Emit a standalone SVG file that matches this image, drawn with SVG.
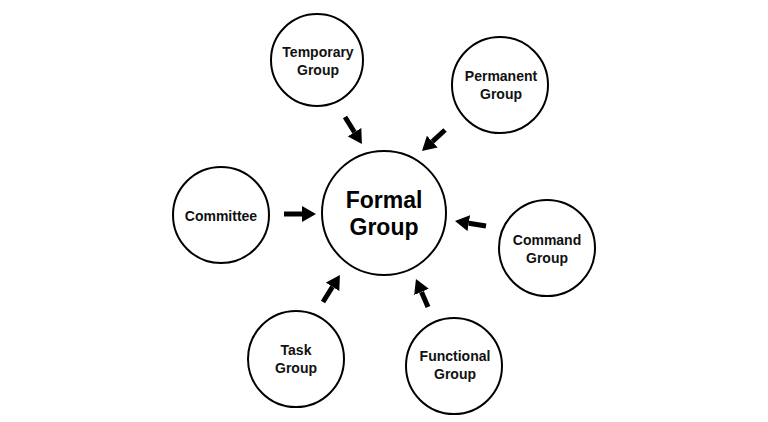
<svg xmlns="http://www.w3.org/2000/svg" width="768" height="422" viewBox="0 0 768 422">
<defs>
<style>
.n{fill:#fff;stroke:#000;stroke-width:2}
.t{font-family:"Liberation Sans",Arial,sans-serif;font-weight:bold;font-size:14px;fill:#111;text-anchor:middle}
.big{font-size:23px;fill:#000}
.c{stroke:#000;stroke-width:5;fill:none}
</style>
<marker id="ah" viewBox="0 -8 14 16" refX="0" refY="0" markerWidth="14" markerHeight="16" markerUnits="userSpaceOnUse" orient="auto">
<path d="M0,-8 L14,0 L0,8 z" fill="#000"/>
</marker>
</defs>
<rect width="768" height="422" fill="#fff"/>
<g id="connectors">
<line class="c" x1="345" y1="117" x2="354.5" y2="132.2" marker-end="url(#ah)"/>
<line class="c" x1="445" y1="130" x2="432.3" y2="141.6" marker-end="url(#ah)"/>
<line class="c" x1="284" y1="214" x2="302" y2="214" marker-end="url(#ah)"/>
<line class="c" x1="486" y1="226" x2="468.8" y2="223.2" marker-end="url(#ah)"/>
<line class="c" x1="323" y1="302" x2="332.5" y2="286.8" marker-end="url(#ah)"/>
<line class="c" x1="428" y1="307" x2="421.5" y2="291.9" marker-end="url(#ah)"/>
</g>
<g id="formal">
<circle class="n" cx="384" cy="213" r="62" stroke-width="3"/>
<text class="t big" x="384" y="208">Formal</text>
<text class="t big" x="384" y="235">Group</text>
</g>
<g id="temporary">
<circle class="n" cx="317" cy="60" r="46"/>
<text class="t" x="318" y="57">Temporary</text>
<text class="t" x="318" y="75">Group</text>
</g>
<g id="permanent">
<circle class="n" cx="500" cy="85" r="48"/>
<text class="t" x="501" y="81">Permanent</text>
<text class="t" x="501" y="99">Group</text>
</g>
<g id="committee">
<circle class="n" cx="221" cy="215" r="48"/>
<text class="t" x="221" y="221">Committee</text>
</g>
<g id="command">
<circle class="n" cx="547" cy="248" r="48"/>
<text class="t" x="547" y="245">Command</text>
<text class="t" x="547" y="263">Group</text>
</g>
<g id="task">
<circle class="n" cx="296" cy="359" r="48"/>
<text class="t" x="296" y="355">Task</text>
<text class="t" x="296" y="373">Group</text>
</g>
<g id="functional">
<circle class="n" cx="454" cy="366" r="48"/>
<text class="t" x="455" y="361">Functional</text>
<text class="t" x="455" y="379">Group</text>
</g>
</svg>
